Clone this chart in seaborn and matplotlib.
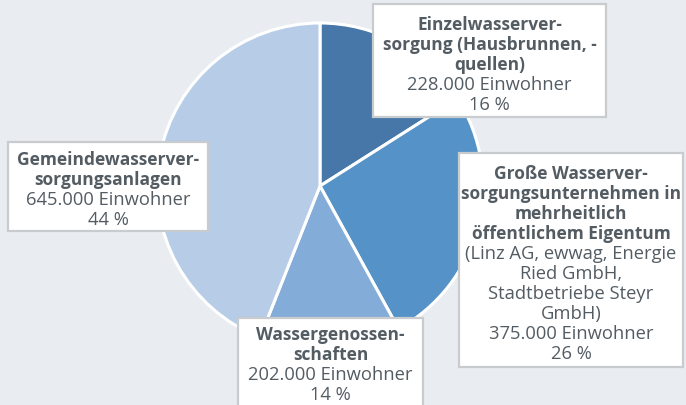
import matplotlib
matplotlib.use("Agg")
import matplotlib.pyplot as plt
from matplotlib.patches import Rectangle
import seaborn as sns

# Wasserversorgung - Anteile der Einwohner (clockwise from top)
categories = ["Einzelwasserversorgung", "Große Wasserversorgungsunternehmen",
              "Wassergenossenschaften", "Gemeindewasserversorgungsanlagen"]
shares = [16, 26, 14, 44]
einwohner = ["228.000", "375.000", "202.000", "645.000"]
colors = ["#4677a8", "#5592c8", "#84acd9", "#b7cce6"]

# label text: bold title lines, then regular lines
titles = [
    ["Einzelwasserver-", "sorgung (Hausbrunnen, -", "quellen)"],
    ["Große Wasserver-", "sorgungsunternehmen in", "mehrheitlich", "öffentlichem Eigentum"],
    ["Wassergenossen-", "schaften"],
    ["Gemeindewasserver-", "sorgungsanlagen"],
]
extra = [[], ["(Linz AG, ewwag, Energie", "Ried GmbH,", "Stadtbetriebe Steyr", "GmbH)"], [], []]

# box positions in pixels: left, top, width, height (+ offset of first text line)
boxes = [(373, 5, 233, 113), (459, 154, 224, 214), (238, 319, 185, 100), (8, 143, 200, 89)]
first_line = [19.5, 20, 16, 17]

sns.set_theme(style="white")
plt.rcParams['font.family'] = ['Open Sans', 'DejaVu Sans']

bg = "#e9edf1"
txt = "#545c63"
W, H = 686, 406

fig = plt.figure(figsize=(6.86, 4.06), dpi=100, facecolor=bg)
ax = fig.add_axes([0, 0, 1, 1])
ax.set_facecolor(bg)
ax.set_xlim(0, W)
ax.set_ylim(0, H)
ax.axis('off')

ax.pie(shares, colors=colors, startangle=90, counterclock=False,
       center=(320, H - 187), radius=163,
       wedgeprops=dict(edgecolor="white", linewidth=2.2))
ax.set_xlim(0, W)
ax.set_ylim(0, H)

line_h = 20.0
for i, (l, t, w, h) in enumerate(boxes):
    ax.add_patch(Rectangle((l, H - t - h), w, h, facecolor="white",
                           edgecolor="#c9cccf", linewidth=1.6, zorder=3, clip_on=False))
    lines = [(s, 'bold') for s in titles[i]] + [(s, 'normal') for s in extra[i]]
    lines += [(einwohner[i] + " Einwohner", 'normal'), (f"{shares[i]} %", 'normal')]
    cx = l + w / 2
    y = t + first_line[i]
    for s, wt in lines:
        fs = 12.5 if wt == 'bold' else 13.2
        ax.text(cx, H - y, s, ha='center', va='center', fontsize=fs,
                fontweight=wt, color=txt, zorder=4)
        y += line_h

fig.savefig("out.png", dpi=100, facecolor=bg)
